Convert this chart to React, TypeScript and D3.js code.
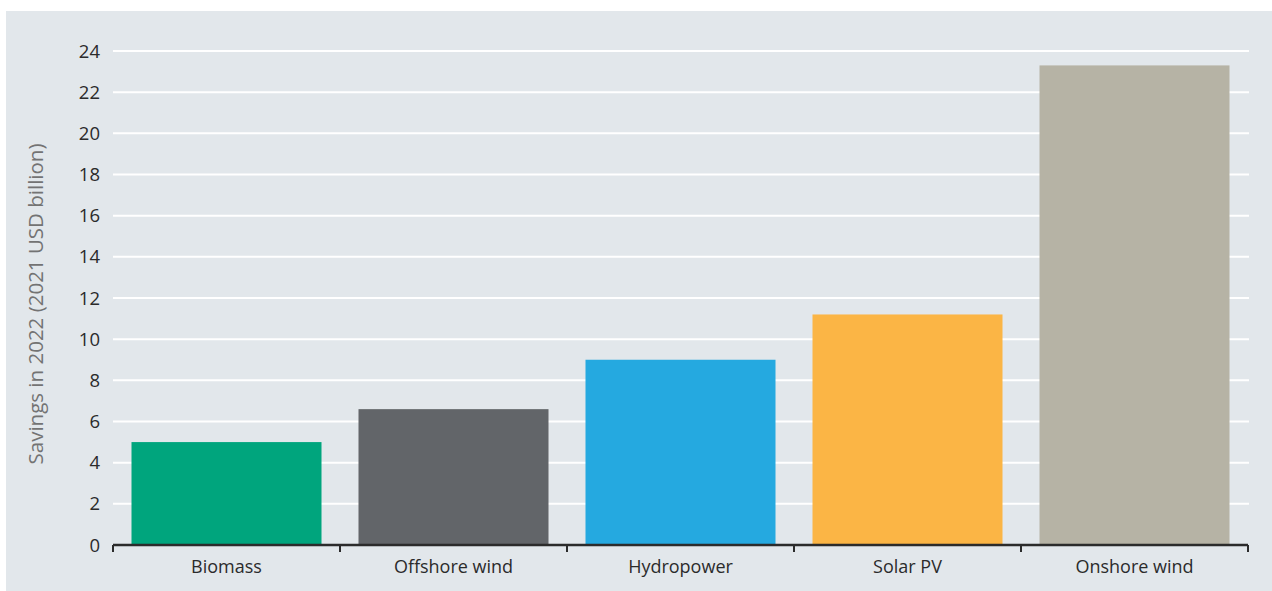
import React, { useRef, useEffect } from 'react';
import * as d3 from 'd3';

const categories = ['Biomass', 'Offshore wind', 'Hydropower', 'Solar PV', 'Onshore wind'];
const savings = [5.0, 6.6, 9.0, 11.2, 23.3];
const barColors = ['#00a57d', '#626569', '#25a9e0', '#fbb545', '#b6b3a5'];
const yTicks = [0, 2, 4, 6, 8, 10, 12, 14, 16, 18, 20, 22, 24];
const yTitle = 'Savings in 2022 (2021 USD billion)';

const W = 1272;
const H = 591;

const App: React.FC = () => {
  const svgRef = useRef<SVGSVGElement>(null);

  useEffect(() => {
    if (!svgRef.current) return;
    const svg = d3.select(svgRef.current);
    svg.selectAll('*').remove();

    const font = "'Open Sans', 'Noto Sans', sans-serif";
    const left = 113;
    const right = 1248;
    const baseY = 545;

    // panel background
    svg.append('rect')
      .attr('x', 6).attr('y', 11)
      .attr('width', W - 6).attr('height', H - 11)
      .attr('fill', '#e2e7eb');

    const y = d3.scaleLinear().domain([0, 24]).range([baseY, 51]);
    const band = d3.scaleBand<string>().domain(categories).range([left, right]).padding(0);
    const x = d3.scaleBand<string>().domain(categories).range([left, right])
      .paddingInner(0.163).paddingOuter(0.0815);

    // gridlines
    svg.append('g').selectAll('line')
      .data(yTicks.filter(t => t > 0))
      .enter().append('line')
      .attr('x1', left).attr('x2', right + 1)
      .attr('y1', d => y(d)).attr('y2', d => y(d))
      .style('stroke', '#ffffff')
      .style('stroke-width', 2);

    // y tick labels
    svg.append('g').selectAll('text')
      .data(yTicks)
      .enter().append('text')
      .attr('x', 100)
      .attr('y', d => y(d))
      .attr('dy', '0.36em')
      .attr('text-anchor', 'end')
      .style('font-family', font)
      .style('font-size', '18.5px')
      .style('fill', '#2b2b2b')
      .text(d => d);

    // bars
    svg.append('g').selectAll('rect')
      .data(categories)
      .enter().append('rect')
      .attr('x', d => x(d) as number)
      .attr('width', x.bandwidth())
      .attr('y', (d, i) => y(savings[i]))
      .attr('height', (d, i) => baseY - y(savings[i]))
      .attr('fill', (d, i) => barColors[i]);

    // x axis baseline and ticks
    svg.append('line')
      .attr('x1', left).attr('x2', right)
      .attr('y1', baseY).attr('y2', baseY)
      .style('stroke', '#2b2b2b')
      .style('stroke-width', 2.5);

    const tickXs = categories.map(c => band(c) as number).concat([right]);
    svg.append('g').selectAll('line')
      .data(tickXs)
      .enter().append('line')
      .attr('x1', d => d).attr('x2', d => d)
      .attr('y1', baseY).attr('y2', baseY + 7)
      .style('stroke', '#2b2b2b')
      .style('stroke-width', 2);

    // category labels
    svg.append('g').selectAll('text')
      .data(categories)
      .enter().append('text')
      .attr('x', d => (band(d) as number) + band.bandwidth() / 2)
      .attr('y', 567)
      .attr('dy', '0.36em')
      .attr('text-anchor', 'middle')
      .style('font-family', font)
      .style('font-size', '18px')
      .style('fill', '#2b2b2b')
      .text(d => d);

    // y axis title
    svg.append('text')
      .attr('transform', `translate(36,${(y(24) + baseY) / 2 + 6}) rotate(-90)`)
      .attr('dy', '0.36em')
      .attr('text-anchor', 'middle')
      .style('font-family', font)
      .style('font-size', '20.5px')
      .style('fill', '#737373')
      .text(yTitle);
  }, []);

  return (
    <svg
      ref={svgRef}
      width={W}
      height={H}
      viewBox={`0 0 ${W} ${H}`}
      style={{ position: 'absolute', left: 0, top: 0, background: '#ffffff' }}
    />
  );
};

export default App;
